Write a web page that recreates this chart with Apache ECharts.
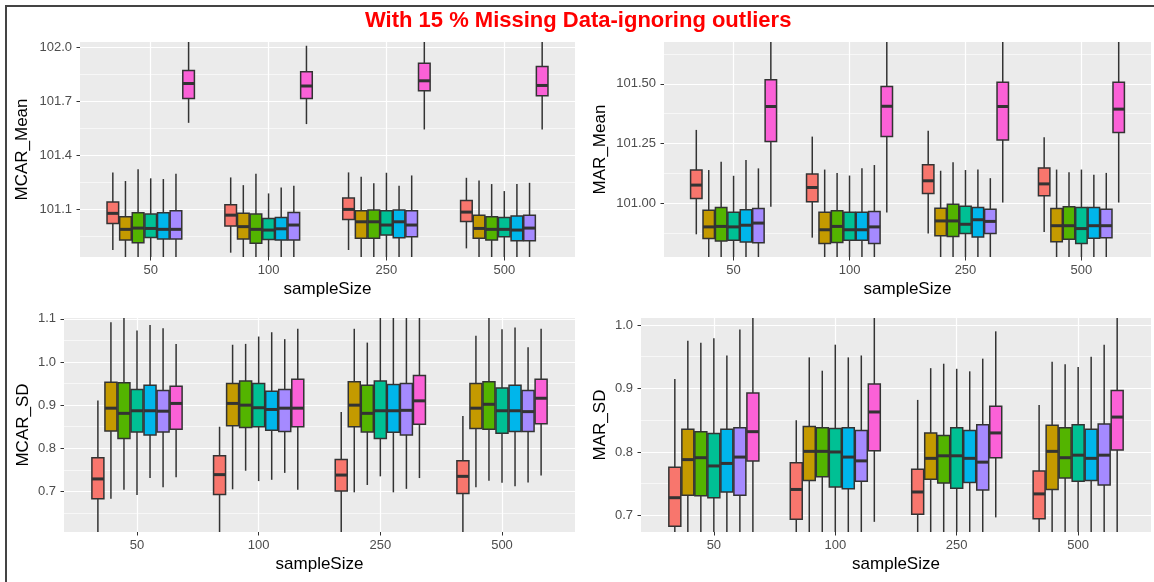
<!DOCTYPE html>
<html>
<head>
<meta charset="utf-8">
<script src="https://cdn.jsdelivr.net/npm/echarts@6.0.0/dist/echarts.min.js"></script>
<style>
	html, body { margin: 0; padding: 0; background: #fff; }
	#main { width: 1154px; height: 582px; }
</style>
</head>
<body>
<div id="main"></div>
<script>
	// sample sizes on the x axis
	const sampleSizes = ['50', '100', '250', '500'];

	// one row per method (7 boxes per sample size), each cell = [lower whisker, Q1, median, Q3, upper whisker]
	const mcarMean = [
		[[100.874, 101.022, 101.078, 101.141, 101.306], [100.859, 101.007, 101.068, 101.126, 101.278], [100.874, 101.044, 101.100, 101.163, 101.306], [100.883, 101.033, 101.085, 101.150, 101.276]],
		[[100.80, 100.929, 100.989, 101.059, 101.258], [100.80, 100.935, 101.004, 101.078, 101.235], [100.80, 100.939, 101.031, 101.093, 101.282], [100.80, 100.939, 100.994, 101.068, 101.261]],
		[[100.78, 100.914, 100.996, 101.081, 101.323], [100.78, 100.911, 100.989, 101.074, 101.299], [100.80, 100.939, 101.031, 101.096, 101.245], [100.80, 100.929, 100.989, 101.059, 101.241]],
		[[100.80, 100.944, 100.994, 101.074, 101.273], [100.78, 100.933, 100.985, 101.050, 101.189], [100.80, 100.957, 101.013, 101.093, 101.304], [100.78, 100.948, 100.989, 101.055, 101.202]],
		[[100.80, 100.935, 100.989, 101.081, 101.269], [100.80, 100.929, 100.992, 101.055, 101.222], [100.80, 100.942, 101.031, 101.096, 101.231], [100.80, 100.926, 100.985, 101.063, 101.241]],
		[[100.80, 100.935, 100.989, 101.093, 101.299], [100.80, 100.929, 101.013, 101.083, 101.231], [100.80, 100.948, 101.013, 101.093, 101.289], [100.80, 100.926, 100.996, 101.068, 101.248]],
		[[101.582, 101.718, 101.801, 101.874, 102.08], [101.575, 101.718, 101.787, 101.866, 102.011], [101.545, 101.761, 101.816, 101.913, 102.08], [101.545, 101.733, 101.790, 101.896, 102.08]]
	];
	const marMean = [
		[[100.870, 101.020, 101.076, 101.139, 101.307], [100.856, 101.006, 101.066, 101.122, 101.279], [100.873, 101.041, 101.094, 101.161, 101.304], [100.880, 101.031, 101.081, 101.148, 101.276]],
		[[100.74, 100.852, 100.901, 100.971, 101.139], [100.74, 100.831, 100.889, 100.962, 101.141], [100.74, 100.864, 100.926, 100.979, 101.136], [100.74, 100.839, 100.906, 100.978, 101.141]],
		[[100.74, 100.842, 100.903, 100.982, 101.174], [100.74, 100.836, 100.903, 100.969, 101.127], [100.74, 100.861, 100.926, 100.996, 101.172], [100.74, 100.849, 100.906, 100.985, 101.130]],
		[[100.74, 100.845, 100.901, 100.962, 101.115], [100.74, 100.845, 100.889, 100.962, 101.116], [100.74, 100.873, 100.912, 100.987, 101.139], [100.74, 100.831, 100.894, 100.982, 101.141]],
		[[100.74, 100.838, 100.908, 100.973, 101.181], [100.74, 100.845, 100.889, 100.962, 101.146], [100.74, 100.859, 100.931, 100.982, 101.141], [100.74, 100.853, 100.906, 100.982, 101.119]],
		[[100.74, 100.835, 100.917, 100.978, 101.146], [100.74, 100.831, 100.901, 100.965, 101.160], [100.74, 100.873, 100.924, 100.975, 101.105], [100.74, 100.856, 100.906, 100.975, 101.127]],
		[[100.985, 101.259, 101.405, 101.517, 101.75], [100.961, 101.279, 101.406, 101.489, 101.75], [101.003, 101.265, 101.405, 101.506, 101.75], [101.003, 101.296, 101.394, 101.507, 101.75]]
	];
	const mcarSD = [
		[[0.58, 0.683, 0.729, 0.778, 0.911], [0.58, 0.693, 0.739, 0.783, 0.850], [0.58, 0.701, 0.738, 0.774, 0.884], [0.58, 0.695, 0.735, 0.771, 0.875]],
		[[0.683, 0.840, 0.893, 0.953, 1.092], [0.705, 0.852, 0.904, 0.950, 1.040], [0.698, 0.850, 0.900, 0.954, 1.077], [0.710, 0.846, 0.893, 0.950, 1.061]],
		[[0.704, 0.823, 0.881, 0.952, 1.12], [0.748, 0.848, 0.900, 0.956, 1.042], [0.715, 0.838, 0.881, 0.946, 1.045], [0.725, 0.844, 0.902, 0.954, 1.11]],
		[[0.692, 0.838, 0.887, 0.936, 1.073], [0.724, 0.850, 0.894, 0.950, 1.059], [0.735, 0.823, 0.887, 0.956, 1.12], [0.720, 0.835, 0.887, 0.940, 1.076]],
		[[0.731, 0.831, 0.887, 0.946, 1.086], [0.727, 0.842, 0.890, 0.932, 1.069], [0.698, 0.837, 0.887, 0.948, 1.12], [0.712, 0.839, 0.887, 0.946, 1.080]],
		[[0.710, 0.838, 0.886, 0.934, 1.078], [0.743, 0.839, 0.893, 0.936, 1.053], [0.706, 0.831, 0.888, 0.950, 1.12], [0.721, 0.839, 0.885, 0.934, 1.034]],
		[[0.733, 0.844, 0.904, 0.944, 1.042], [0.704, 0.850, 0.893, 0.960, 1.077], [0.731, 0.856, 0.910, 0.969, 1.12], [0.737, 0.857, 0.916, 0.960, 1.077]]
	];
	const marSD = [
		[[0.64, 0.683, 0.728, 0.776, 0.915], [0.64, 0.694, 0.741, 0.783, 0.850], [0.64, 0.702, 0.737, 0.773, 0.882], [0.64, 0.695, 0.734, 0.770, 0.874]],
		[[0.60, 0.732, 0.788, 0.836, 0.975], [0.62, 0.755, 0.801, 0.840, 0.949], [0.62, 0.757, 0.790, 0.830, 0.932], [0.62, 0.741, 0.801, 0.842, 0.942]],
		[[0.60, 0.731, 0.791, 0.832, 0.972], [0.62, 0.761, 0.801, 0.838, 0.928], [0.62, 0.751, 0.794, 0.826, 0.939], [0.62, 0.759, 0.791, 0.838, 0.938]],
		[[0.60, 0.728, 0.778, 0.829, 0.979], [0.62, 0.745, 0.800, 0.837, 0.969], [0.62, 0.743, 0.794, 0.838, 0.931], [0.62, 0.754, 0.795, 0.843, 0.934]],
		[[0.60, 0.737, 0.782, 0.836, 0.952], [0.62, 0.742, 0.792, 0.838, 0.949], [0.62, 0.752, 0.790, 0.834, 0.927], [0.62, 0.755, 0.790, 0.836, 0.950]],
		[[0.60, 0.732, 0.792, 0.838, 0.993], [0.62, 0.754, 0.786, 0.834, 0.952], [0.62, 0.740, 0.784, 0.843, 0.947], [0.62, 0.748, 0.795, 0.844, 0.969]],
		[[0.64, 0.786, 0.832, 0.893, 1.05], [0.690, 0.802, 0.863, 0.907, 1.05], [0.697, 0.791, 0.830, 0.872, 0.990], [0.64, 0.803, 0.855, 0.897, 1.05]]
	];

	// y tick labels (major) and minor grid positions
	const mcarMeanTicks = [101.1, 101.4, 101.7, 102.0];
	const mcarMeanMinor = [100.95, 101.25, 101.55, 101.85];
	const marMeanTicks = [101.00, 101.25, 101.50];
	const marMeanMinor = [100.875, 101.125, 101.375, 101.625];
	const mcarSDTicks = [0.7, 0.8, 0.9, 1.0, 1.1];
	const mcarSDMinor = [0.65, 0.75, 0.85, 0.95, 1.05];
	const marSDTicks = [0.7, 0.8, 0.9, 1.0];
	const marSDMinor = [0.75, 0.85, 0.95];

	const colors = ['#F8766D', '#C49A00', '#53B400', '#00C094', '#00B6EB', '#A58AFF', '#FB61D7'];
	const FONT = 'Liberation Sans, Arial, Helvetica, sans-serif';
	const SLOT = 0.75 / 7;
	const BOX_W = SLOT * 0.92;

	const panels = [
		{ name: 'MCAR_Mean', data: mcarMean, ticks: mcarMeanTicks, minor: mcarMeanMinor, min: 100.835, max: 102.032, dec: 1, nameGap: 49,
			grid: { left: 80, top: 42, width: 495, height: 215 } },
		{ name: 'MAR_Mean', data: marMean, ticks: marMeanTicks, minor: marMeanMinor, min: 100.775, max: 101.675, dec: 2, nameGap: 55,
			grid: { left: 664, top: 42, width: 487, height: 215 } },
		{ name: 'MCAR_SD', data: mcarSD, ticks: mcarSDTicks, minor: mcarSDMinor, min: 0.606, max: 1.102, dec: 1, nameGap: 32,
			grid: { left: 64, top: 318, width: 511, height: 214 } },
		{ name: 'MAR_SD', data: marSD, ticks: marSDTicks, minor: marSDMinor, min: 0.674, max: 1.011, dec: 1, nameGap: 32,
			grid: { left: 641, top: 318, width: 510, height: 214 } }
	];

	function renderBox(params, api) {
		let cs = params.coordSys;
		let clampY = y => Math.max(cs.y, Math.min(cs.y + cs.height, y));
		let pos = api.value(0);
		let xc = api.coord([pos, api.value(3)])[0];
		let yLow = clampY(api.coord([pos, api.value(1)])[1]);
		let yQ1 = clampY(api.coord([pos, api.value(2)])[1]);
		let yMed = api.coord([pos, api.value(3)])[1];
		let yQ3 = clampY(api.coord([pos, api.value(4)])[1]);
		let yHigh = clampY(api.coord([pos, api.value(5)])[1]);
		let half = api.size([BOX_W, 0])[0] / 2;
		return {
			type: 'group',
			children: [
				{ type: 'line', shape: { x1: xc, y1: yLow, x2: xc, y2: yHigh }, style: { stroke: '#333333', lineWidth: 1.5 } },
				{ type: 'rect', shape: { x: xc - half, y: yQ3, width: half * 2, height: yQ1 - yQ3 },
					style: { fill: api.visual('color'), stroke: '#333333', lineWidth: 1.5 } },
				{ type: 'line', shape: { x1: xc - half, y1: yMed, x2: xc + half, y2: yMed }, style: { stroke: '#333333', lineWidth: 3 } }
			]
		};
	}

	let grids = [], xAxes = [], yAxes = [], series = [];
	panels.forEach((p, i) => {
		grids.push(Object.assign({ show: true, backgroundColor: '#EBEBEB', borderWidth: 0 }, p.grid));
		xAxes.push({
			type: 'value', gridIndex: i, min: 0.4, max: 4.6,
			name: 'sampleSize', nameLocation: 'middle', nameGap: 24,
			nameTextStyle: { fontSize: 17, color: '#000', fontFamily: FONT },
			axisLine: { show: false, onZero: false },
			axisTick: { show: true, length: 3.5, customValues: [1, 2, 3, 4], lineStyle: { color: '#333333' } },
			axisLabel: { customValues: [1, 2, 3, 4], formatter: v => sampleSizes[v - 1], color: '#4D4D4D', fontSize: 13, margin: 7, fontFamily: FONT },
			splitLine: { show: true, lineStyle: { color: '#FFFFFF', width: 1.2 } }
		});
		yAxes.push({
			type: 'value', gridIndex: i, min: p.min, max: p.max,
			name: p.name, nameLocation: 'middle', nameGap: p.nameGap,
			nameTextStyle: { fontSize: 17, color: '#000', fontFamily: FONT },
			axisLine: { show: false, onZero: false },
			axisTick: { show: true, length: 3.5, customValues: p.ticks, lineStyle: { color: '#333333' } },
			axisLabel: { customValues: p.ticks, formatter: v => v.toFixed(p.dec), color: '#4D4D4D', fontSize: 13, margin: 8, fontFamily: FONT },
			splitLine: { show: true, lineStyle: { color: '#FFFFFF', width: 1.2 } }
		});
		// minor grid lines
		yAxes.push({
			type: 'value', gridIndex: i, min: p.min, max: p.max, position: 'left',
			axisLine: { show: false, onZero: false },
			axisTick: { show: false, customValues: p.minor },
			axisLabel: { show: false, customValues: p.minor },
			splitLine: { show: true, lineStyle: { color: '#FFFFFF', width: 0.6 } }
		});
		p.data.forEach((rows, g) => {
			series.push({
				type: 'custom',
				xAxisIndex: i,
				yAxisIndex: i * 2,
				clip: true,
				itemStyle: { color: colors[g] },
				encode: { x: 0, y: [1, 2, 3, 4, 5] },
				renderItem: renderBox,
				data: rows.map((s, k) => [k + 1 + (g - 3) * SLOT].concat(s))
			});
		});
	});

	let myChart = echarts.init(document.getElementById('main'));
	myChart.setOption({
		animation: false,
		backgroundColor: '#FFFFFF',
		title: {
			text: 'With 15 % Missing Data-ignoring outliers',
			left: 365, top: 10, padding: 0,
			textStyle: { color: '#FF0000', fontSize: 22, fontWeight: 'bold', fontFamily: FONT }
		},
		grid: grids,
		xAxis: xAxes,
		yAxis: yAxes,
		series: series,
		graphic: [
			{ type: 'line', shape: { x1: 5, y1: 6, x2: 1154, y2: 6 }, style: { stroke: '#444444', lineWidth: 2 } },
			{ type: 'line', shape: { x1: 6, y1: 5, x2: 6, y2: 582 }, style: { stroke: '#444444', lineWidth: 2 } }
		]
	});
</script>
</body>
</html>
